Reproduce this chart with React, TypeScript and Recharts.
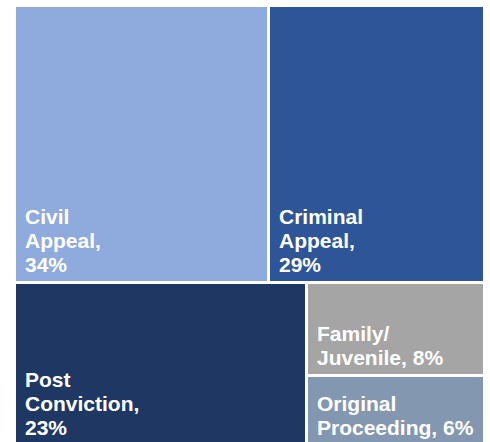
import React from 'react';
import { Treemap } from 'recharts';

const categories = ['Civil Appeal', 'Criminal Appeal', 'Post Conviction', 'Family/Juvenile', 'Original Proceeding'];
const shares = [34, 29, 23, 8, 6];
const colors = ['#8FAADC', '#2E5597', '#1F3763', '#A5A5A5', '#8497B0'];

// wrapped label text for each box, the percentage is added after
const labelLines = [
  ['Civil', 'Appeal,'],
  ['Criminal', 'Appeal,'],
  ['Post', 'Conviction,'],
  ['Family/', 'Juvenile,'],
  ['Original', 'Proceeding,'],
];
const pctOwnLine = [true, true, true, false, false];

// top band and bottom band of the treemap
const rows = [[0, 1], [2, 3, 4]];

const data = rows.map((ids, r) => ({
  name: `row${r}`,
  children: ids.map((i) => ({ name: categories[i], value: shares[i] })),
}));

const FONT = '"Liberation Sans", Arial, sans-serif';

const Box = (props: any) => {
  const { x, y, width, height, depth, name } = props;
  if (depth !== 2) return null;
  const i = categories.indexOf(name);
  const lines = [...labelLines[i]];
  if (pctOwnLine[i]) lines.push(`${shares[i]}%`);
  else lines[lines.length - 1] += ` ${shares[i]}%`;
  const base = y + height - 11;
  return (
    <g>
      <rect x={x + 1} y={y + 1} width={width - 3} height={height - 3} fill={colors[i]} />
      {lines.map((t, k) => (
        <text
          key={k}
          x={x + 10}
          y={base - (lines.length - 1 - k) * 24}
          fill="#ffffff"
          fontFamily={FONT}
          fontWeight="bold"
          fontSize={21}
        >
          {t}
        </text>
      ))}
    </g>
  );
};

export default function App() {
  return (
    <div style={{ position: 'absolute', left: 15, top: 6 }}>
      <Treemap
        width={470}
        height={440}
        data={data}
        dataKey="value"
        aspectRatio={1.618}
        isAnimationActive={false}
        content={(p: any) => <Box {...p} />}
      />
    </div>
  );
}
